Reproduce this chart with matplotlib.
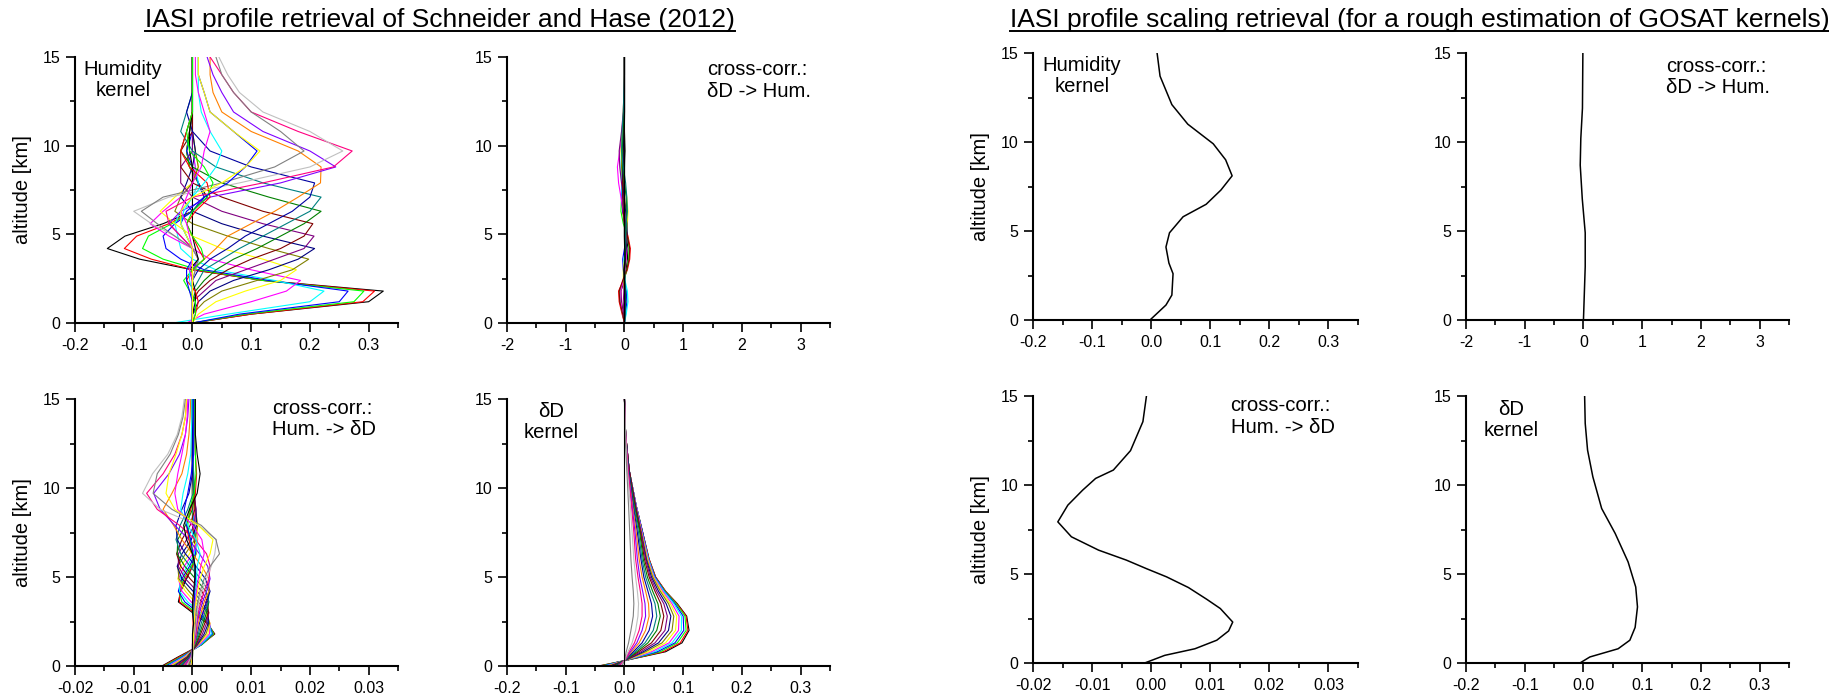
import numpy as np
import matplotlib
matplotlib.use("Agg")
import matplotlib.pyplot as plt
from matplotlib.ticker import FormatStrFormatter
from matplotlib.lines import Line2D

plt.rcParams['font.family'] = ['Liberation Sans', 'DejaVu Sans']
plt.rcParams['axes.unicode_minus'] = False

# Origin-like colour cycle (white left out, it is invisible anyway)
palette = ['#000000', '#ff0000', '#00ff00', '#0000ff', '#00ffff', '#ff00ff',
           '#ffff00', '#808000', '#000080', '#800080', '#800000', '#008000',
           '#008080', '#0000a0', '#ff8000', '#8000ff', '#ff0080', '#c0c0c0',
           '#808080']

# ---- left block: full profile retrieval (rows of the kernel matrices) ----
alt_km = [0.0, 0.5, 1.2, 1.8, 2.4, 3.0, 3.6, 4.2, 4.9, 5.6,
          6.3, 7.1, 7.9, 8.8, 9.7, 10.8, 11.9, 13.0, 14.0, 15.0]

hum_kernel = [
    [0.0, 0.10, 0.30, 0.325, 0.12, 0.0, -0.09, -0.145, -0.115, -0.05, 0.0, 0.025, 0.01, -0.005, -0.01, -0.005, 0, 0, 0, 0],
    [0.0, 0.10, 0.29, 0.31, 0.12, 0.0, -0.07, -0.116, -0.095, -0.04, 0.0, 0.02, 0.01, -0.005, -0.01, -0.005, 0, 0, 0, 0],
    [0.0, 0.09, 0.275, 0.292, 0.12, 0.01, -0.05, -0.085, -0.075, -0.035, 0.0, 0.02, 0.01, -0.005, -0.01, -0.005, 0, 0, 0, 0],
    [0.0, 0.08, 0.25, 0.265, 0.13, 0.02, -0.02, -0.045, -0.05, -0.03, 0.0, 0.02, 0.01, 0.0, -0.01, 0, 0, 0, 0, 0],
    [-0.033, 0.06, 0.20, 0.224, 0.14, 0.04, 0.0, -0.02, -0.025, -0.03, -0.02, 0.0, 0.01, 0.005, 0.0, 0, 0, 0, 0, 0],
    [-0.01, 0.02, 0.10, 0.16, 0.184, 0.10, 0.03, 0.0, -0.04, -0.072, -0.05, -0.02, 0.0, 0.005, 0.0, 0, 0, 0, 0, 0],
    [0.0, 0.01, 0.04, 0.09, 0.15, 0.177, 0.12, 0.05, 0.0, -0.03, -0.055, -0.03, 0.0, 0.01, 0.005, 0, 0, 0, 0, 0],
    [0.0, 0.0, 0.02, 0.05, 0.11, 0.17, 0.198, 0.13, 0.06, 0.0, -0.03, -0.02, 0.0, 0.01, 0.005, 0, 0, 0, 0, 0],
    [0.0, 0.0, 0.01, 0.03, 0.07, 0.13, 0.18, 0.208, 0.12, 0.05, 0.0, -0.02, -0.01, 0.0, 0.005, 0, 0, 0, 0, 0],
    [0.0, 0.0, 0.0, 0.02, 0.04, 0.09, 0.14, 0.19, 0.207, 0.12, 0.05, 0.0, -0.02, -0.02, 0.0, 0, 0, 0, 0, 0],
    [0.0, 0.0, 0.0, 0.01, 0.03, 0.06, 0.10, 0.15, 0.19, 0.205, 0.12, 0.05, 0.0, -0.02, -0.02, 0.0, 0, 0, 0, 0],
    [0.0, 0.0, 0.0, 0.005, 0.02, 0.04, 0.07, 0.11, 0.15, 0.19, 0.219, 0.13, 0.05, 0.0, -0.02, -0.01, 0, 0, 0, 0],
    [0.0, 0.0, 0.0, 0.0, 0.01, 0.02, 0.05, 0.08, 0.12, 0.16, 0.20, 0.219, 0.12, 0.04, 0.0, -0.02, -0.01, 0, 0, 0],
    [0.0, 0.0, 0.0, 0.0, 0.0, 0.01, 0.03, 0.06, 0.09, 0.13, 0.17, 0.20, 0.208, 0.10, 0.03, 0.0, -0.01, 0, 0, 0],
    [0.0, 0.0, 0.0, 0.0, 0.0, 0.0, 0.02, 0.04, 0.06, 0.10, 0.14, 0.18, 0.218, 0.219, 0.18, 0.10, 0.05, 0.035, 0.03, 0.03],
    [0.0, 0.0, 0.0, 0.0, 0.0, 0.0, 0.01, 0.0, -0.02, -0.04, -0.02, 0.03, 0.15, 0.244, 0.20, 0.12, 0.07, 0.05, 0.035, 0.025],
    [0.0, 0.0, 0.0, 0.0, 0.0, 0.0, 0.0, 0.0, -0.02, -0.04, -0.045, 0.0, 0.12, 0.24, 0.272, 0.18, 0.10, 0.07, 0.05, 0.03],
    [0.0, 0.0, 0.0, 0.0, 0.0, 0.005, 0.01, 0.0, -0.03, -0.07, -0.10, -0.04, 0.08, 0.20, 0.256, 0.20, 0.12, 0.08, 0.06, 0.045],
    [0.0, 0.0, 0.0, 0.0, 0.0, 0.005, 0.01, 0.0, -0.03, -0.06, -0.087, -0.05, 0.05, 0.14, 0.19, 0.15, 0.10, 0.07, 0.05, 0.04],
    [0.0, 0.0, 0.005, 0.005, 0.0, -0.005, 0.01, 0.005, 0.0, 0.0, 0.0, 0.0, 0.0, 0.0, -0.005, -0.005, 0, 0, 0, 0],
    [0.0, 0.005, 0.01, 0.005, -0.01, 0.0, 0.02, 0.01, 0.0, -0.01, 0.005, 0.03, 0.025, -0.005, -0.02, -0.01, 0, 0, 0, 0],
    [0.0, 0.005, 0.005, -0.005, -0.015, 0.0, 0.02, 0.015, 0.0, -0.01, 0.0, 0.025, 0.035, 0.02, -0.005, -0.01, 0, 0, 0, 0],
    [0.0, 0.0, 0.0, -0.005, -0.01, -0.01, 0.0, 0.0, -0.01, -0.02, -0.01, 0.02, 0.06, 0.09, 0.11, 0.07, 0.03, 0.02, 0.01, 0.01],
    [0.0, 0.0, 0.0, 0.0, -0.005, -0.005, 0.0, 0.0, -0.01, -0.02, -0.015, 0.0, 0.02, 0.04, 0.05, 0.03, 0.015, 0.01, 0.01, 0.01],
    [0.0, 0.0, 0.0, 0.0, 0.0, -0.005, 0.0, 0.0, -0.005, -0.01, -0.02, -0.01, 0.0, 0.015, 0.02, 0.03, 0.02, 0.01, 0.005, 0.005],
    [0.0, 0.0, 0.0, 0.0, 0.0, 0.0, 0.0, 0.0, -0.01, -0.02, -0.02, 0.0, 0.05, 0.09, 0.115, 0.07, 0.03, 0.02, 0.01, 0.01],
]

# cross-correlation dD -> humidity (tiny, around zero)
cc_dd_hum = [
    [0, -0.02, -0.05, -0.06, 0.0, 0.03, 0.05, 0.06, 0.03, 0.0, -0.02, -0.03, -0.02, 0.0, 0.01, 0, 0, 0, 0, 0],
    [0, -0.04, -0.09, -0.10, -0.02, 0.05, 0.09, 0.10, 0.06, 0.0, -0.03, -0.04, -0.03, -0.01, 0.0, 0, 0, 0, 0, 0],
    [0, -0.03, -0.07, -0.08, -0.01, 0.04, 0.07, 0.08, 0.05, -0.02, -0.06, -0.05, -0.03, 0.0, 0.0, 0, 0, 0, 0, 0],
    [0, 0.02, 0.04, 0.03, 0.0, -0.02, -0.03, 0.0, 0.03, 0.02, -0.03, -0.05, -0.04, -0.02, 0.0, 0, 0, 0, 0, 0],
    [0, 0.03, 0.06, 0.05, 0.01, -0.01, -0.01, 0.02, 0.04, 0.02, 0.0, -0.04, -0.05, -0.06, -0.05, -0.02, 0, 0, 0, 0],
    [0, -0.03, -0.06, -0.06, -0.02, 0.0, 0.03, 0.04, 0.02, 0.0, -0.02, -0.06, -0.10, -0.12, -0.08, -0.03, -0.01, 0, 0, 0],
    [0, 0.0, 0.02, 0.0, -0.02, -0.02, 0.0, 0.02, 0.04, 0.05, 0.06, 0.04, 0.0, -0.04, -0.06, -0.04, -0.02, -0.01, 0, 0],
    [0, 0.01, 0.01, 0.0, -0.01, 0.0, 0.01, 0.02, 0.03, 0.04, 0.03, 0.0, -0.03, -0.05, -0.04, -0.02, 0, 0, 0, 0],
    [0, 0.01, 0.02, 0.01, 0, -0.01, 0.01, 0.03, 0.05, 0.04, 0.02, -0.01, -0.03, -0.03, -0.02, -0.01, 0, 0, 0, 0],
    [0, -0.01, -0.02, -0.01, 0, 0.01, 0.02, 0.02, 0.03, 0.02, 0.0, -0.02, -0.05, -0.08, -0.09, -0.05, -0.02, -0.01, 0, 0],
    [0, -0.03, -0.08, -0.09, -0.03, 0.04, 0.08, 0.09, 0.05, 0.0, -0.02, -0.03, -0.03, -0.01, 0, 0, 0, 0, 0, 0],
    [0, 0.0, 0.01, 0.01, 0, 0, 0.01, 0.02, 0.02, 0.03, 0.04, 0.03, 0.0, -0.03, -0.04, -0.02, -0.01, 0, 0, 0],
    [0, 0.01, 0.02, 0.02, 0.01, 0, 0, 0.01, 0.02, 0.03, 0.05, 0.04, 0.02, -0.02, -0.05, -0.04, -0.02, -0.01, 0, 0],
]

# cross-correlation humidity -> dD, in units of 1e-3
cc_hum_dd_milli = [
    [-5.2, -2.5, 1.5, 3.8, 2.5, 0.0, -2.4, -2.0, -1.0, 0.0, 0.5, 0.3, 0.0, 0.0, 0, 0, 0, 0, 0, 0],
    [-5.0, -2.3, 1.6, 3.7, 2.6, 0.3, -2.2, -2.2, -1.2, 0.0, 0.6, 0.4, 0.1, 0.0, 0, 0, 0, 0, 0, 0],
    [-4.8, -2.0, 1.6, 3.6, 2.7, 0.6, -1.8, -2.3, -1.5, -0.2, 0.6, 0.5, 0.2, 0, 0, 0, 0, 0, 0, 0],
    [-4.5, -1.8, 1.5, 3.4, 2.8, 1.0, -1.3, -2.4, -1.8, -0.5, 0.5, 0.6, 0.3, 0.1, 0, 0, 0, 0, 0, 0],
    [-4.2, -1.6, 1.4, 3.2, 2.9, 1.4, -0.8, -2.2, -2.1, -0.9, 0.3, 0.8, 0.4, 0.1, 0, 0, 0, 0, 0, 0],
    [-4.0, -1.4, 1.2, 2.9, 3.0, 1.8, -0.2, -1.8, -2.4, -1.4, 0.0, 0.9, 0.6, 0.2, 0, 0, 0, 0, 0, 0],
    [-3.7, -1.2, 1.0, 2.6, 3.0, 2.2, 0.4, -1.2, -2.5, -2.0, -0.5, 0.8, 0.8, 0.3, 0, 0, 0, 0, 0, 0],
    [-3.4, -1.0, 0.9, 2.3, 2.9, 2.5, 1.0, -0.6, -2.3, -2.5, -1.2, 0.4, 0.9, 0.5, 0.1, 0, 0, 0, 0, 0],
    [-3.1, -0.9, 0.8, 2.0, 2.7, 2.7, 1.6, 0.1, -1.8, -2.6, -1.8, -0.2, 0.7, 0.6, 0.2, 0, 0, 0, 0, 0],
    [-2.8, -0.8, 0.7, 1.7, 2.4, 2.8, 2.2, 0.8, -1.2, -2.4, -2.4, -1.0, 0.3, 0.6, 0.3, 0.0, 0, 0, 0, 0],
    [-2.5, -0.7, 0.6, 1.4, 2.1, 2.7, 2.6, 1.6, -0.4, -2.0, -2.7, -1.8, -0.4, 0.4, 0.4, 0.1, 0, 0, 0, 0],
    [-2.2, -0.6, 0.5, 1.2, 1.8, 2.4, 2.8, 2.3, 0.5, -1.3, -2.6, -2.5, -1.2, 0.0, 0.4, 0.2, 0.0, 0, 0, 0],
    [-2.0, -0.5, 0.4, 1.0, 1.5, 2.1, 2.7, 2.8, 1.4, -0.4, -2.0, -2.8, -2.1, -0.8, 0.1, 0.2, 0.1, 0, 0, 0],
    [-1.8, -0.4, 0.3, 0.8, 1.2, 1.8, 2.4, 3.0, 2.2, 0.6, -1.2, -2.6, -2.8, -1.8, -0.6, 0.0, 0.0, 0, 0, 0],
    [-1.6, -0.3, 0.3, 0.7, 1.0, 1.5, 2.0, 2.8, 2.8, 1.6, 0.0, -1.8, -3.2, -5.0, -3.5, -1.8, -1.0, -0.6, -0.4, -0.3],
    [-1.4, -0.3, 0.2, 0.6, 0.8, 1.2, 1.7, 2.4, 3.0, 2.6, 1.2, -0.6, -3.0, -5.5, -6.6, -4.0, -2.2, -1.2, -0.8, -0.6],
    [-1.2, -0.2, 0.2, 0.5, 0.7, 1.0, 1.4, 2.0, 2.8, 3.0, 2.4, 0.5, -2.2, -6.0, -7.8, -5.0, -3.0, -1.8, -1.2, -1.0],
    [-1.0, -0.2, 0.1, 0.4, 0.6, 0.8, 1.1, 1.6, 2.4, 3.2, 3.8, 4.1, 1.0, -5.5, -8.5, -6.8, -4.2, -2.6, -1.8, -1.4],
    [-0.8, -0.1, 0.1, 0.3, 0.5, 0.6, 0.9, 1.3, 2.0, 3.0, 4.6, 4.0, 1.5, -3.5, -6.7, -6.0, -3.8, -2.4, -1.6, -1.2],
    [0.0, 0.0, 0.0, 0.0, 0.2, 0.0, 0.0, 0.2, 0.4, 0.5, 0.0, -1.0, -1.5, -0.5, 0.8, 1.3, 0.8, 0.5, 0.5, 0.5],
    [-0.6, 0, 0, 0.1, 0.1, 0.1, 0.2, 0.3, 0.4, 0.3, 0.0, -0.6, -1.0, -0.3, 0.5, 0.7, 0.5, 0.4, 0.3, 0.3],
    [-0.5, 0, 0.1, 0.1, 0.2, 0.2, 0.3, 0.4, 0.4, 0.3, 0.0, -0.4, -0.8, -0.5, 0.3, 0.6, 0.5, 0.4, 0.4, 0.3],
    [-0.4, 0, 0, 0.1, 0.2, 0.3, 0.3, 0.4, 0.5, 0.4, 0.1, -0.3, -1.0, -1.4, -0.8, -0.2, 0.2, 0.2, 0.2, 0.2],
    [-0.3, 0, 0.1, 0.2, 0.3, 0.4, 0.5, 0.6, 0.7, 0.8, 1.3, 0.6, -0.8, -2.0, -1.6, -0.8, -0.3, -0.2, -0.1, -0.1],
    [-0.3, 0, 0.1, 0.2, 0.3, 0.4, 0.5, 0.7, 1.0, 1.4, 2.0, 1.6, 0.0, -2.5, -3.0, -2.5, -1.8, -1.2, -0.9, -0.8],
    [-0.3, 0, 0.1, 0.2, 0.3, 0.4, 0.6, 0.9, 1.3, 2.0, 3.0, 3.5, 1.0, -3.0, -4.5, -4.0, -2.8, -1.8, -1.2, -1.0],
]

# dD kernel rows on their own (smoother) altitude grid
dd_alt_km = [0.0, 0.3, 0.8, 1.3, 2.0, 2.8, 3.5, 4.2, 5.0, 6.0, 7.5, 9.0, 11.0, 13.0, 15.0]
dd_kernel = [
    [-0.044, 0.0, 0.07, 0.098, 0.11, 0.106, 0.09, 0.07, 0.053, 0.042, 0.031, 0.02, 0.008, 0.002, 0.0],
    [-0.042, 0.0, 0.066, 0.095, 0.108, 0.105, 0.089, 0.07, 0.053, 0.042, 0.031, 0.02, 0.008, 0.002, 0.0],
    [-0.040, 0.0, 0.061, 0.090, 0.105, 0.103, 0.088, 0.069, 0.052, 0.041, 0.031, 0.02, 0.008, 0.002, 0.0],
    [-0.037, 0.0, 0.056, 0.086, 0.101, 0.100, 0.086, 0.068, 0.052, 0.041, 0.031, 0.02, 0.008, 0.002, 0.0],
    [-0.034, 0.0, 0.051, 0.081, 0.097, 0.097, 0.084, 0.067, 0.051, 0.041, 0.030, 0.02, 0.008, 0.002, 0.0],
    [-0.031, 0.0, 0.046, 0.076, 0.092, 0.093, 0.081, 0.065, 0.050, 0.040, 0.030, 0.02, 0.008, 0.002, 0.0],
    [-0.028, 0.0, 0.041, 0.070, 0.087, 0.089, 0.078, 0.063, 0.049, 0.039, 0.029, 0.019, 0.008, 0.002, 0.0],
    [-0.026, 0.0, 0.036, 0.064, 0.081, 0.084, 0.075, 0.061, 0.048, 0.038, 0.029, 0.019, 0.008, 0.002, 0.0],
    [-0.024, 0.0, 0.032, 0.058, 0.075, 0.079, 0.071, 0.058, 0.046, 0.037, 0.028, 0.019, 0.008, 0.002, 0.0],
    [-0.022, 0.0, 0.028, 0.052, 0.069, 0.073, 0.067, 0.055, 0.044, 0.036, 0.028, 0.018, 0.008, 0.002, 0.0],
    [-0.020, 0.0, 0.024, 0.046, 0.062, 0.067, 0.062, 0.052, 0.042, 0.034, 0.027, 0.018, 0.008, 0.002, 0.0],
    [-0.018, 0.0, 0.021, 0.040, 0.055, 0.061, 0.057, 0.048, 0.039, 0.032, 0.026, 0.017, 0.007, 0.002, 0.0],
    [-0.016, 0.0, 0.018, 0.035, 0.049, 0.055, 0.052, 0.044, 0.036, 0.030, 0.024, 0.016, 0.007, 0.002, 0.0],
    [-0.014, 0.0, 0.015, 0.030, 0.042, 0.048, 0.046, 0.040, 0.033, 0.028, 0.022, 0.015, 0.007, 0.002, 0.0],
    [-0.012, 0.0, 0.012, 0.025, 0.036, 0.042, 0.041, 0.036, 0.030, 0.025, 0.020, 0.014, 0.006, 0.002, 0.0],
    [-0.010, 0.0, 0.010, 0.021, 0.030, 0.036, 0.035, 0.031, 0.026, 0.022, 0.018, 0.013, 0.006, 0.002, 0.0],
    [-0.008, 0.0, 0.008, 0.017, 0.025, 0.030, 0.030, 0.027, 0.023, 0.019, 0.016, 0.012, 0.006, 0.002, 0.0],
    [-0.006, 0.0, 0.006, 0.013, 0.019, 0.023, 0.024, 0.022, 0.019, 0.016, 0.013, 0.010, 0.005, 0.002, 0.0],
    [-0.004, 0.0, 0.003, 0.007, 0.011, 0.015, 0.016, 0.015, 0.013, 0.011, 0.009, 0.007, 0.004, 0.001, 0.0],
    [0.0, 0.0, 0.0, 0.0, 0.0, 0.0, 0.0, 0.0, 0.0, 0.0, 0.0, 0.0, 0.0, 0.0, 0.0],
]

# ---- right block: scaling retrieval (single total-column rows) ----
sc_hum_alt = [0.0, 0.84, 1.4, 2.6, 3.2, 4.1, 4.9, 5.8, 6.5, 7.3, 8.1, 9.0, 9.9, 11.0, 12.1, 13.7, 15.0]
sc_hum_val = [-0.002, 0.025, 0.035, 0.037, 0.030, 0.025, 0.031, 0.054, 0.093, 0.118, 0.137, 0.126, 0.105, 0.062, 0.035, 0.015, 0.010]

sc_cc_dd_hum_alt = [0.0, 3.0, 4.9, 6.8, 8.7, 10.2, 11.9, 15.0]
sc_cc_dd_hum_val = [0.0, 0.03, 0.03, -0.02, -0.055, -0.045, -0.017, -0.01]

sc_cc_hum_dd_alt = [0.0, 0.43, 0.8, 1.28, 1.8, 2.3, 3.06, 3.58, 4.24, 4.84, 5.3, 5.78, 6.34,
                    7.09, 7.93, 8.87, 9.71, 10.37, 10.84, 11.93, 13.56, 15.0]
sc_cc_hum_dd_val = [-0.0011, 0.0023, 0.0074, 0.0111, 0.0131, 0.0138, 0.0117, 0.0094, 0.0063, 0.0026,
                    -0.0008, -0.0042, -0.0089, -0.0135, -0.0158, -0.0141, -0.0116, -0.0094, -0.0064,
                    -0.0035, -0.0014, -0.0008]

sc_dd_alt = [0.0, 0.34, 0.8, 1.28, 2.0, 3.15, 4.27, 5.68, 7.28, 8.68, 10.46, 11.96, 13.46, 15.0]
sc_dd_val = [-0.006, 0.011, 0.059, 0.079, 0.088, 0.092, 0.089, 0.076, 0.054, 0.031, 0.016, 0.007, 0.003, 0.002]

# ---- figure ----
W, H = 1829, 698
fig = plt.figure(figsize=(W / 100, H / 100), dpi=100)


def make_ax(left, right, top, bottom):
    return fig.add_axes([left / W, 1 - bottom / H, (right - left) / W, (bottom - top) / H])


def style(ax, xmajor, xminor, xlim, fmt, ylabel=False):
    ax.set_xlim(xlim)
    ax.set_ylim(0, 15)
    ax.set_xticks(xmajor)
    ax.set_xticks(xminor, minor=True)
    ax.set_yticks([0, 5, 10, 15])
    ax.set_yticks([2.5, 7.5, 12.5], minor=True)
    ax.xaxis.set_major_formatter(FormatStrFormatter(fmt))
    for s in ['top', 'right']:
        ax.spines[s].set_visible(False)
    for s in ['left', 'bottom']:
        ax.spines[s].set_linewidth(1.5)
    ax.tick_params(which='major', direction='out', length=6.5, width=1.2, labelsize=11.5, pad=4)
    ax.tick_params(which='minor', direction='out', length=3.8, width=1.2)
    if ylabel:
        ax.set_ylabel('altitude [km]', fontsize=14.5)
        ax.yaxis.set_label_coords(-0.133, 0.5)


fine_major = [-0.2, -0.1, 0.0, 0.1, 0.2, 0.3]
fine_minor = [-0.15, -0.05, 0.05, 0.15, 0.25, 0.35]
cc_major = [-2, -1, 0, 1, 2, 3]
cc_minor = [-1.5, -0.5, 0.5, 1.5, 2.5, 3.5]
small_major = [-0.02, -0.01, 0.0, 0.01, 0.02, 0.03]
small_minor = [-0.015, -0.005, 0.005, 0.015, 0.025, 0.035]

note_kw = dict(fontsize=14.6, linespacing=1.15)

# left block
ax1 = make_ax(75, 398, 57, 323)
for i, row in enumerate(hum_kernel):
    ax1.plot(row, alt_km, color=palette[i % len(palette)], lw=0.8)
style(ax1, fine_major, fine_minor, (-0.2, 0.35), '%.1f', ylabel=True)
ax1.text(0.149, 0.914, 'Humidity\nkernel', transform=ax1.transAxes, ha='center', va='center', **note_kw)

ax2 = make_ax(507, 830, 57, 323)
for i, row in enumerate(cc_dd_hum):
    ax2.plot(row, alt_km, color=palette[i % len(palette)], lw=0.8)
ax2.plot(hum_kernel[19], alt_km, color='k', lw=1.0)
style(ax2, cc_major, cc_minor, (-2, 3.5), '%d')
ax2.text(0.619, 0.912, 'cross-corr.:\nδD -> Hum.', transform=ax2.transAxes, ha='left', va='center', **note_kw)

ax3 = make_ax(75, 398, 399, 666)
for i, row in enumerate(cc_hum_dd_milli):
    ax3.plot(np.array(row) / 1000, alt_km, color=palette[i % len(palette)], lw=0.8,
             zorder=3 if i == 19 else 2)
style(ax3, small_major, small_minor, (-0.02, 0.035), '%.2f', ylabel=True)
ax3.text(0.61, 0.925, 'cross-corr.:\nHum. -> δD', transform=ax3.transAxes, ha='left', va='center', **note_kw)

ax4 = make_ax(507, 830, 399, 666)
for i, row in enumerate(dd_kernel):
    ax4.plot(row, dd_alt_km, color=palette[i % len(palette)], lw=0.8)
style(ax4, fine_major, fine_minor, (-0.2, 0.35), '%.1f')
ax4.text(0.138, 0.914, 'δD\nkernel', transform=ax4.transAxes, ha='center', va='center', **note_kw)

# right block
ax5 = make_ax(1033, 1358, 53, 320)
ax5.plot(sc_hum_val, sc_hum_alt, color='k', lw=1.1)
style(ax5, fine_major, fine_minor, (-0.2, 0.35), '%.1f', ylabel=True)
ax5.text(0.151, 0.914, 'Humidity\nkernel', transform=ax5.transAxes, ha='center', va='center', **note_kw)

ax6 = make_ax(1466, 1789, 53, 320)
ax6.plot(sc_cc_dd_hum_val, sc_cc_dd_hum_alt, color='k', lw=1.1)
style(ax6, cc_major, cc_minor, (-2, 3.5), '%d')
ax6.text(0.619, 0.91, 'cross-corr.:\nδD -> Hum.', transform=ax6.transAxes, ha='left', va='center', **note_kw)

ax7 = make_ax(1033, 1358, 396, 663)
ax7.plot(sc_cc_hum_dd_val, sc_cc_hum_dd_alt, color='k', lw=1.1)
style(ax7, small_major, small_minor, (-0.02, 0.035), '%.2f', ylabel=True)
ax7.text(0.608, 0.923, 'cross-corr.:\nHum. -> δD', transform=ax7.transAxes, ha='left', va='center', **note_kw)

ax8 = make_ax(1466, 1789, 396, 663)
ax8.plot(sc_dd_val, sc_dd_alt, color='k', lw=1.1)
style(ax8, fine_major, fine_minor, (-0.2, 0.35), '%.1f')
ax8.text(0.139, 0.911, 'δD\nkernel', transform=ax8.transAxes, ha='center', va='center', **note_kw)

# underlined block titles, left edges as in the reference
titles = ['IASI profile retrieval of Schneider and Hase (2012)',
          'IASI profile scaling retrieval (for a rough estimation of GOSAT kernels)']
title_left = [145 / W, 1010 / W]
renderer = fig.canvas.get_renderer()
for t, x in zip(titles, title_left):
    txt = fig.text(x, 1 - 27 / H, t, ha='left', va='baseline', fontsize=19)
    bb = txt.get_window_extent(renderer).transformed(fig.transFigure.inverted())
    fig.add_artist(Line2D([bb.x0, bb.x1], [1 - 31 / H] * 2, transform=fig.transFigure,
                          color='k', lw=1.4))

fig.savefig('out.png', dpi=100)
